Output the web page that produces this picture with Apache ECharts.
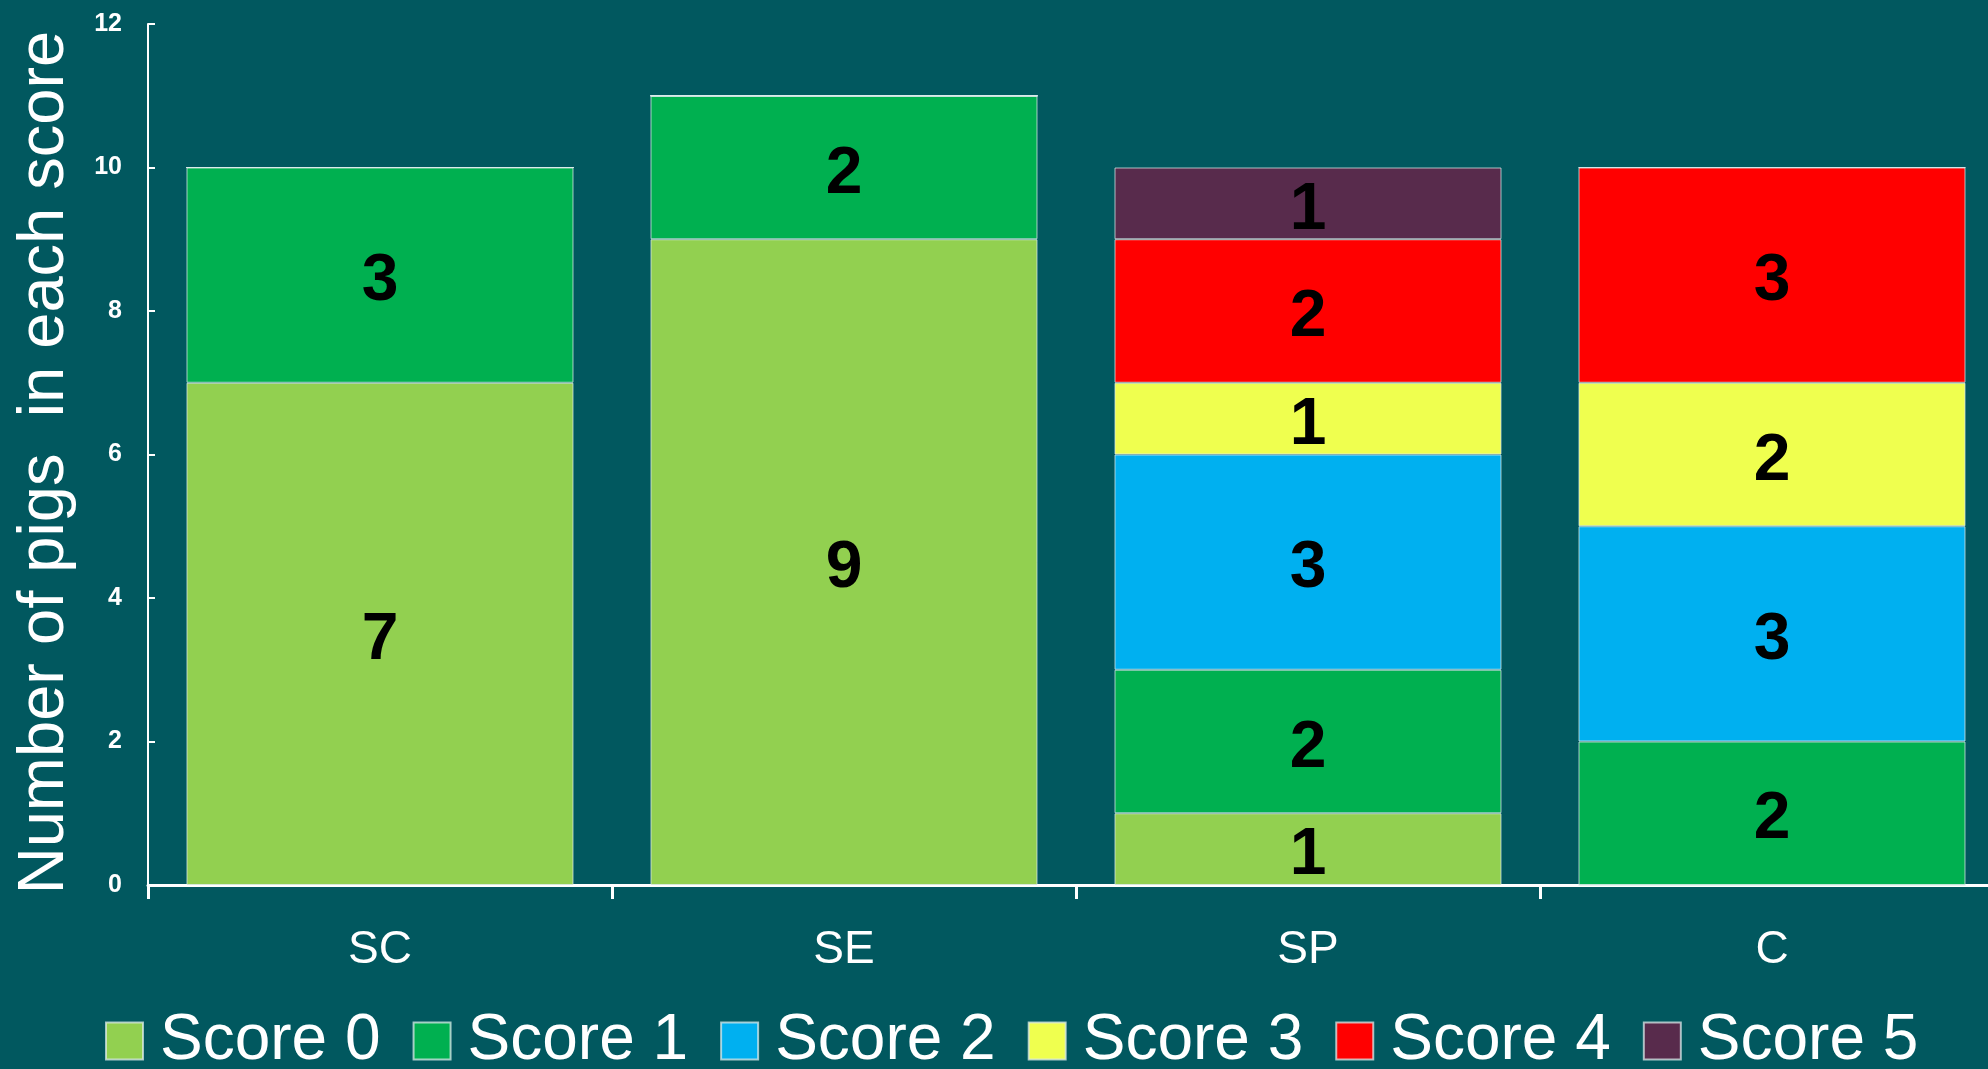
<!DOCTYPE html>
<html>
<head>
<meta charset="utf-8">
<script src="https://cdn.jsdelivr.net/npm/echarts@6/dist/echarts.min.js"></script>
<style>
  html, body { margin: 0; padding: 0; background: #01585f; overflow: hidden; }
  #chart { width: 1988px; height: 1069px; }
</style>
</head>
<body>
<div id="chart"></div>
<script>
// groups on the x axis
const groups = ['SC', 'SE', 'SP', 'C'];
// one array per score, values per group (stacked)
const score0 = [7, 9, 1, 0];
const score1 = [3, 2, 2, 2];
const score2 = [0, 0, 3, 3];
const score3 = [0, 0, 1, 2];
const score4 = [0, 0, 2, 3];
const score5 = [0, 0, 1, 0];
const scoreNames = ['Score 0', 'Score 1', 'Score 2', 'Score 3', 'Score 4', 'Score 5'];
const yTicks = [0, 2, 4, 6, 8, 10, 12];

const colors = ['#92d050', '#00b050', '#00b0f0', '#efff4f', '#ff0000', '#582b4c'];
const font = '"Liberation Sans", Arial, Helvetica, sans-serif';

const chart = echarts.init(document.getElementById('chart'));

const seriesData = [score0, score1, score2, score3, score4, score5];
const series = seriesData.map((data, i) => ({
  name: scoreNames[i],
  type: 'bar',
  stack: 'total',
  barCategoryGap: '16.6%',
  data: data,
  itemStyle: {
    color: colors[i],
    borderColor: 'rgba(220,235,235,0.75)',
    borderWidth: 1,
  },
  label: {
    show: true,
    position: 'inside',
    offset: [0, 7],
    color: '#000',
    fontFamily: font,
    fontWeight: 'bold',
    fontSize: 66,
    // empty segments get no number
    formatter: (p) => (p.value ? String(p.value) : ''),
  },
}));

chart.setOption({
  backgroundColor: '#01585f',
  animation: false,
  // axis runs slightly past the right edge, as in the original
  grid: { left: 148, width: 1856, top: 24, bottom: 184, outerBoundsMode: 'none' },
  legend: {
    data: scoreNames,
    left: 100,
    top: 1004,
    icon: 'rect',
    itemWidth: 37,
    itemHeight: 37,
    itemGap: 32,
    textStyle: {
      color: '#fff',
      fontFamily: font,
      fontSize: 64,
      padding: [0, 0, 0, 12],
    },
  },
  xAxis: {
    type: 'category',
    data: groups,
    axisLine: { lineStyle: { color: '#fff', width: 3 } },
    axisTick: { show: true, length: 14, lineStyle: { color: '#fff', width: 3 } },
    axisLabel: { color: '#fff', fontFamily: font, fontSize: 46, margin: 42 },
  },
  yAxis: {
    type: 'value',
    min: yTicks[0],
    max: yTicks[yTicks.length - 1],
    interval: 2,
    name: 'Number of pigs  in each score',
    nameLocation: 'middle',
    nameGap: 70,
    nameTextStyle: { color: '#fff', fontFamily: font, fontSize: 65, padding: [0, 16, 0, 0] },
    splitLine: { show: false },
    axisLine: { show: true, lineStyle: { color: '#fff', width: 2 } },
    axisTick: { show: true, inside: true, length: 7, lineStyle: { color: '#fff', width: 2 } },
    axisLabel: { color: '#fff', fontFamily: font, fontWeight: 'bold', fontSize: 25, margin: 26 },
  },
  series: series,
});
</script>
</body>
</html>
